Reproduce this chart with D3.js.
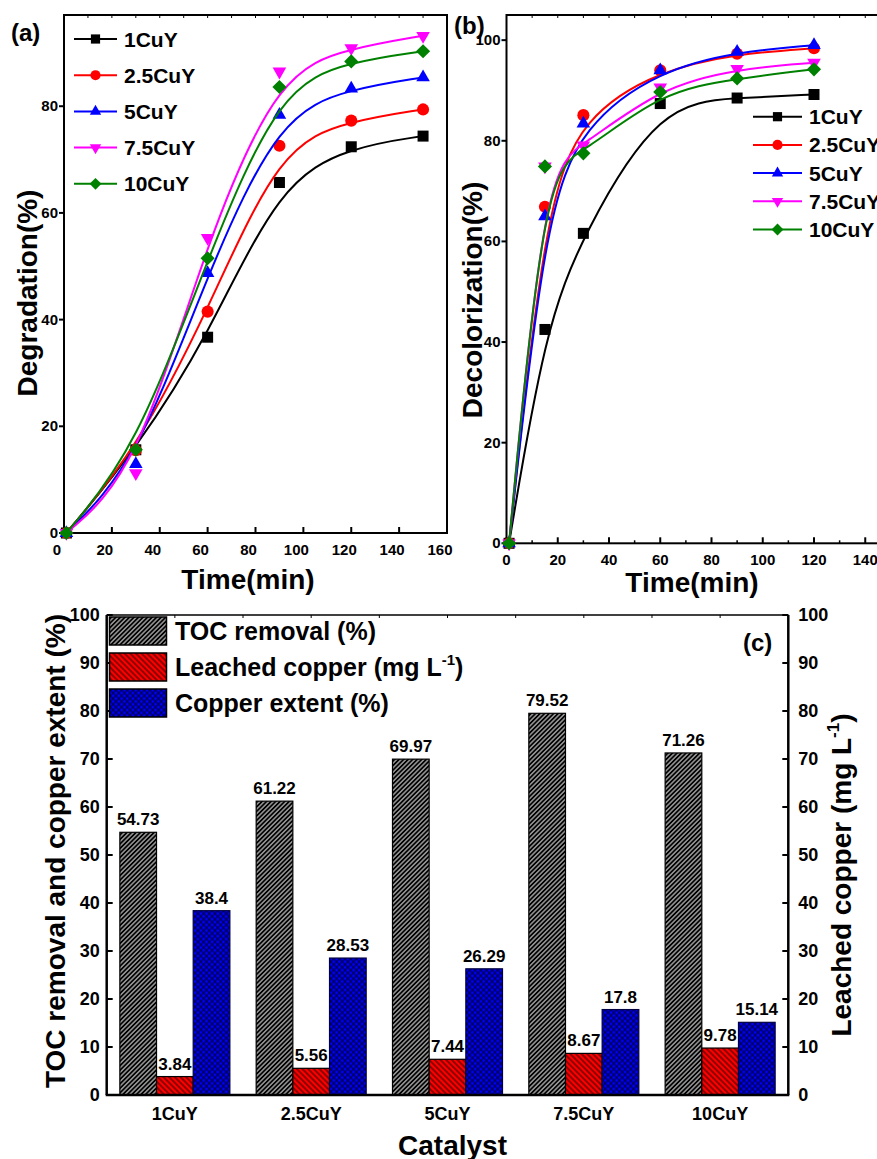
<!DOCTYPE html>
<html lang="en">
<head>
<meta charset="UTF-8">
<title>CuY catalysts</title>
<script src="https://cdn.jsdelivr.net/npm/d3@7/dist/d3.min.js"></script>
<style>
    body { margin: 0; background: #fff; }
    svg text {
        font-family: "Liberation Sans", Arial, sans-serif;
        font-weight: bold;
        fill: #000;
    }
</style>
</head>
<body>
<script>
    var w = 877;
    var h = 1159;

    //series names and colours
    var catalysts = ['1CuY', '2.5CuY', '5CuY', '7.5CuY', '10CuY'];
    var colors = ['#000000', '#ff0000', '#0000ff', '#ff00ff', '#008000'];

    //panel (a) degradation vs time
    var timeA = [1, 30, 60, 90, 120, 150];
    var degr1 = [0, 15.6, 36.7, 65.7, 72.4, 74.4];
    var degr25 = [0, 15.5, 41.5, 72.6, 77.3, 79.4];
    var degr5 = [0, 12.9, 48.7, 78.4, 83.3, 85.4];
    var degr75 = [0, 11.2, 55.3, 86.5, 90.9, 93.2];
    var degr10 = [0, 15.6, 51.5, 83.6, 88.4, 90.3];
    var ticksA = [0, 20, 40, 60, 80, 100, 120, 140, 160];
    var yTicksA = [0, 20, 40, 60, 80];

    //panel (b) decolorization vs time
    var timeB = [1, 15, 30, 60, 90, 120];
    var deco1 = [0, 42.5, 61.6, 87.4, 88.5, 89.2];
    var deco25 = [0, 66.9, 85.1, 94.0, 97.3, 98.4];
    var deco5 = [0, 65.0, 83.4, 94.0, 97.7, 99.0];
    var deco75 = [0, 74.9, 79.1, 90.6, 94.3, 95.5];
    var deco10 = [0, 74.9, 77.5, 89.7, 92.4, 94.2];
    var ticksB = [0, 20, 40, 60, 80, 100, 120, 140, 160];
    var yTicksB = [0, 20, 40, 60, 80, 100];

    //panel (c) bars
    var tocRemoval = [54.73, 61.22, 69.97, 79.52, 71.26];
    var leachedCu = [3.84, 5.56, 7.44, 8.67, 9.78];
    var cuExtent = [38.4, 28.53, 26.29, 17.8, 15.14];
    var barTicks = [0, 10, 20, 30, 40, 50, 60, 70, 80, 90, 100];

    var seriesA = [degr1, degr25, degr5, degr75, degr10];
    var seriesB = [deco1, deco25, deco5, deco75, deco10];

    var svg = d3.select('body')
                .append('svg')
                .attr('width', w)
                .attr('height', h);

    //marker shapes: square, circle, triangle up, triangle down, diamond
    function drawMarker(g, i, x, y, scale) {
        var types = [d3.symbolSquare, d3.symbolCircle, d3.symbolTriangle, d3.symbolTriangle, d3.symbolSquare];
        var sizes = [121, 115, 80, 80, 100];
        var rot = [0, 0, 0, 180, 45];
        g.append('path')
            .attr('d', d3.symbol().type(types[i]).size(sizes[i] * scale)())
            .attr('transform', 'translate(' + x + ',' + y + ') rotate(' + rot[i] + ')')
            .attr('fill', colors[i]);
    }

    //line panel builder
    function linePanel(opt) {
        var x = d3.scaleLinear().domain([0, 160]).range([opt.left, opt.right]);
        var y = d3.scaleLinear().domain([0, opt.ymax]).range([opt.bottom, opt.top]);
        var g = svg.append('g');

        //frame
        g.append('rect')
            .attr('x', opt.left).attr('y', opt.top)
            .attr('width', opt.right - opt.left).attr('height', opt.bottom - opt.top)
            .attr('fill', 'none').attr('stroke', '#000').attr('stroke-width', 2);

        //bottom ticks inward
        g.selectAll('.xt').data(opt.xticks).enter().append('line')
            .attr('x1', function(d) { return x(d); }).attr('x2', function(d) { return x(d); })
            .attr('y1', opt.bottom).attr('y2', opt.bottom - 6)
            .attr('stroke', '#000').attr('stroke-width', 2);
        if (opt.minorBottom) {
            g.selectAll('.xm').data(d3.range(10, 160, 20)).enter().append('line')
                .attr('x1', function(d) { return x(d); }).attr('x2', function(d) { return x(d); })
                .attr('y1', opt.bottom).attr('y2', opt.bottom - 3)
                .attr('stroke', '#000').attr('stroke-width', 1.5);
        }
        //top small ticks
        g.selectAll('.tt').data(d3.range(10, 160, 10)).enter().append('line')
            .attr('x1', function(d) { return x(d); }).attr('x2', function(d) { return x(d); })
            .attr('y1', opt.top).attr('y2', opt.top + 3)
            .attr('stroke', '#000').attr('stroke-width', 1);
        g.selectAll('.xl').data(opt.xticks).enter().append('text')
            .attr('x', function(d) { return x(d) + opt.xdx; })
            .attr('y', opt.bottom + 22)
            .attr('text-anchor', 'middle')
            .attr('font-size', 15)
            .text(function(d) { return d; });

        //left ticks outward
        g.selectAll('.yt').data(opt.yticks).enter().append('line')
            .attr('x1', opt.left).attr('x2', opt.left - 5)
            .attr('y1', function(d) { return y(d); }).attr('y2', function(d) { return y(d); })
            .attr('stroke', '#000').attr('stroke-width', 2);
        g.selectAll('.yl').data(opt.yticks).enter().append('text')
            .attr('x', opt.left - 6)
            .attr('y', function(d) { return y(d) + 5; })
            .attr('text-anchor', 'end')
            .attr('font-size', 15)
            .text(function(d) { return d; });

        //curves and markers
        var line = d3.line()
            .x(function(d) { return x(d[0]); })
            .y(function(d) { return y(d[1]); })
            .curve(d3.curveBasis);
        opt.series.forEach(function(vals, i) {
            var pts = opt.time.map(function(t, j) { return [t, vals[j]]; });
            g.append('path')
                .attr('d', line(pts))
                .attr('fill', 'none')
                .attr('stroke', colors[i])
                .attr('stroke-width', 2);
            pts.forEach(function(p) {
                drawMarker(g, i, x(p[0]), y(p[1]), 1);
            });
        });

        //legend
        catalysts.forEach(function(name, i) {
            var ly = opt.legY + i * opt.legStep;
            g.append('line')
                .attr('x1', opt.legX).attr('x2', opt.legX + opt.legLen)
                .attr('y1', ly).attr('y2', ly)
                .attr('stroke', colors[i]).attr('stroke-width', 2);
            drawMarker(g, i, opt.legX + opt.legLen / 2, ly, 0.7);
            g.append('text')
                .attr('x', opt.legX + opt.legLen + 7)
                .attr('y', ly + opt.legFont * 0.36)
                .attr('font-size', opt.legFont)
                .text(name);
        });

        //titles
        g.append('text')
            .attr('x', opt.xtitleX).attr('y', opt.xtitleY)
            .attr('text-anchor', 'middle')
            .attr('font-size', 28)
            .text('Time(min)');
        g.append('text')
            .attr('transform', 'translate(' + opt.ytitleX + ',' + opt.ytitleY + ') rotate(-90)')
            .attr('text-anchor', 'middle')
            .attr('font-size', 28)
            .text(opt.ytitle);
        g.append('text')
            .attr('x', opt.tagX).attr('y', opt.tagY)
            .attr('font-size', 24)
            .text(opt.tag);
    }

    linePanel({
        left: 64, right: 447, top: 15, bottom: 533, ymax: 97.1,
        xticks: ticksA, yticks: yTicksA, xdx: -7, minorBottom: false,
        time: timeA, series: seriesA,
        legX: 74, legY: 39, legStep: 36.2, legLen: 43, legFont: 21,
        xtitleX: 248, xtitleY: 589,
        ytitleX: 37, ytitleY: 293, ytitle: 'Degradation(%)',
        tagX: 11, tagY: 41, tag: '(a)'
    });

    linePanel({
        left: 506.5, right: 916.5, top: 15, bottom: 543.3, ymax: 105,
        xticks: ticksB, yticks: yTicksB, xdx: 0, minorBottom: true,
        time: timeB, series: seriesB,
        legX: 753, legY: 116.7, legStep: 28.2, legLen: 49, legFont: 21,
        xtitleX: 692, xtitleY: 592,
        ytitleX: 482, ytitleY: 300, ytitle: 'Decolorization(%)',
        tagX: 454, tagY: 34, tag: '(b)'
    });

    //panel (c): grouped bars with hatch patterns
    var defs = svg.append('defs');

    var pToc = defs.append('pattern')
        .attr('id', 'hatchToc')
        .attr('patternUnits', 'userSpaceOnUse')
        .attr('width', 3.2).attr('height', 3.2)
        .attr('patternTransform', 'rotate(45)');
    pToc.append('rect').attr('width', 3.2).attr('height', 3.2).attr('fill', '#000');
    pToc.append('line').attr('x1', 1.6).attr('x2', 1.6).attr('y1', 0).attr('y2', 3.2)
        .attr('stroke', '#fff').attr('stroke-width', 0.9);

    var pLeach = defs.append('pattern')
        .attr('id', 'hatchLeach')
        .attr('patternUnits', 'userSpaceOnUse')
        .attr('width', 4).attr('height', 4)
        .attr('patternTransform', 'rotate(-45)');
    pLeach.append('rect').attr('width', 4).attr('height', 4).attr('fill', '#ff0000');
    pLeach.append('line').attr('x1', 2).attr('x2', 2).attr('y1', 0).attr('y2', 4)
        .attr('stroke', '#000').attr('stroke-width', 0.9);

    var pExt = defs.append('pattern')
        .attr('id', 'hatchExt')
        .attr('patternUnits', 'userSpaceOnUse')
        .attr('width', 4).attr('height', 4)
        .attr('patternTransform', 'rotate(45)');
    pExt.append('rect').attr('width', 4).attr('height', 4).attr('fill', '#0000ff');
    pExt.append('line').attr('x1', 2).attr('x2', 2).attr('y1', 0).attr('y2', 4)
        .attr('stroke', '#000').attr('stroke-width', 0.8);
    pExt.append('line').attr('x1', 0).attr('x2', 4).attr('y1', 2).attr('y2', 2)
        .attr('stroke', '#000').attr('stroke-width', 0.8);

    var cL = 106.7, cR = 788.3, cT = 615, cB = 1095;
    var xBand = d3.scaleBand()
        .domain(catalysts)
        .range([cL, cR])
        .paddingInner(0.193)
        .paddingOuter(0.0965);
    var xSub = d3.scaleBand()
        .domain(['toc', 'leach', 'ext'])
        .range([0, xBand.bandwidth()]);
    var yLeft = d3.scaleLinear().domain([0, 100]).range([cB, cT]);
    var yRight = d3.scaleLinear().domain([0, 100]).range([cB, cT]);

    var barSets = [
        { key: 'toc', vals: tocRemoval, scale: yLeft, fill: 'url(#hatchToc)', stroke: '#000' },
        { key: 'leach', vals: leachedCu, scale: yRight, fill: 'url(#hatchLeach)', stroke: '#000' },
        { key: 'ext', vals: cuExtent, scale: yLeft, fill: 'url(#hatchExt)', stroke: '#000040' }
    ];

    var gc = svg.append('g');
    barSets.forEach(function(s) {
        gc.selectAll('.bar-' + s.key)
            .data(s.vals)
            .enter()
            .append('rect')
            .attr('x', function(d, i) { return xBand(catalysts[i]) + xSub(s.key); })
            .attr('y', function(d) { return s.scale(d); })
            .attr('width', xSub.bandwidth())
            .attr('height', function(d) { return cB - s.scale(d); })
            .attr('fill', s.fill)
            .attr('stroke', s.stroke)
            .attr('stroke-width', 1.2);
        gc.selectAll('.lab-' + s.key)
            .data(s.vals)
            .enter()
            .append('text')
            .attr('x', function(d, i) { return xBand(catalysts[i]) + xSub(s.key) + xSub.bandwidth() / 2; })
            .attr('y', function(d) { return s.scale(d) - 7; })
            .attr('text-anchor', 'middle')
            .attr('font-size', 17)
            .text(function(d) { return d; });
    });

    //frame of (c)
    gc.append('line').attr('x1', cL).attr('x2', cR).attr('y1', cT).attr('y2', cT)
        .attr('stroke', '#000').attr('stroke-width', 1.5);
    gc.append('line').attr('x1', cL).attr('x2', cL).attr('y1', cT).attr('y2', cB)
        .attr('stroke', '#000').attr('stroke-width', 2.5);
    gc.append('line').attr('x1', cR).attr('x2', cR).attr('y1', cT).attr('y2', cB)
        .attr('stroke', '#000').attr('stroke-width', 2.5);
    gc.append('line').attr('x1', cL - 1).attr('x2', cR + 1).attr('y1', cB).attr('y2', cB)
        .attr('stroke', '#000').attr('stroke-width', 2.5);

    //top minor ticks at half steps
    var halfSteps = d3.range(1, 10).map(function(k) { return cL + k * xBand.step() / 2; });
    gc.selectAll('.ct').data(halfSteps).enter().append('line')
        .attr('x1', function(d) { return d; }).attr('x2', function(d) { return d; })
        .attr('y1', cT).attr('y2', cT + 3)
        .attr('stroke', '#000').attr('stroke-width', 1);

    //left axis ticks (inward) and labels
    gc.selectAll('.lt').data(barTicks).enter().append('line')
        .attr('x1', cL).attr('x2', cL + 6)
        .attr('y1', function(d) { return yLeft(d); }).attr('y2', function(d) { return yLeft(d); })
        .attr('stroke', '#000').attr('stroke-width', 2);
    gc.selectAll('.ll').data(barTicks).enter().append('text')
        .attr('x', cL - 7)
        .attr('y', function(d) { return yLeft(d) + 6; })
        .attr('text-anchor', 'end')
        .attr('font-size', 18)
        .text(function(d) { return d; });

    //right axis ticks (inward) and labels
    gc.selectAll('.rt').data(barTicks).enter().append('line')
        .attr('x1', cR).attr('x2', cR - 6)
        .attr('y1', function(d) { return yRight(d); }).attr('y2', function(d) { return yRight(d); })
        .attr('stroke', '#000').attr('stroke-width', 2);
    gc.selectAll('.rl').data(barTicks).enter().append('text')
        .attr('x', cR + 10)
        .attr('y', function(d) { return yRight(d) + 6; })
        .attr('font-size', 18)
        .text(function(d) { return d; });

    //category labels
    gc.selectAll('.cat').data(catalysts).enter().append('text')
        .attr('x', function(d) { return xBand(d) + xBand.bandwidth() / 2; })
        .attr('y', cB + 25)
        .attr('text-anchor', 'middle')
        .attr('font-size', 18)
        .text(function(d) { return d; });

    //legend of (c)
    var legC = [
        { fill: 'url(#hatchToc)', text: 'TOC removal (%)', sup: null },
        { fill: 'url(#hatchLeach)', text: 'Leached copper (mg L', sup: '-1' },
        { fill: 'url(#hatchExt)', text: 'Copper extent (%)', sup: null }
    ];
    legC.forEach(function(d, i) {
        var by = 640 + i * 36;
        gc.append('rect')
            .attr('x', 109.5).attr('y', by - 23)
            .attr('width', 57).attr('height', 28)
            .attr('fill', d.fill)
            .attr('stroke', '#000').attr('stroke-width', 1.5);
        var t = gc.append('text')
            .attr('x', 175).attr('y', by)
            .attr('font-size', 25)
            .text(d.text);
        if (d.sup) {
            t.append('tspan').attr('dy', -11).attr('font-size', 15).text(d.sup);
            t.append('tspan').attr('dy', 11).text(')');
        }
    });

    gc.append('text')
        .attr('x', 743).attr('y', 651)
        .attr('font-size', 24)
        .text('(c)');

    //axis titles of (c)
    gc.append('text')
        .attr('x', (cL + cR) / 2 + 5).attr('y', 1155)
        .attr('text-anchor', 'middle')
        .attr('font-size', 28)
        .text('Catalyst');
    gc.append('text')
        .attr('transform', 'translate(65,851) rotate(-90)')
        .attr('text-anchor', 'middle')
        .attr('font-size', 28)
        .text('TOC removal and copper extent (%)');
    var rt = gc.append('text')
        .attr('transform', 'translate(851,875) rotate(-90)')
        .attr('text-anchor', 'middle')
        .attr('font-size', 28)
        .text('Leached copper (mg L');
    rt.append('tspan').attr('dy', -12).attr('font-size', 17).text('-1');
    rt.append('tspan').attr('dy', 12).text(')');
</script>
</body>
</html>
